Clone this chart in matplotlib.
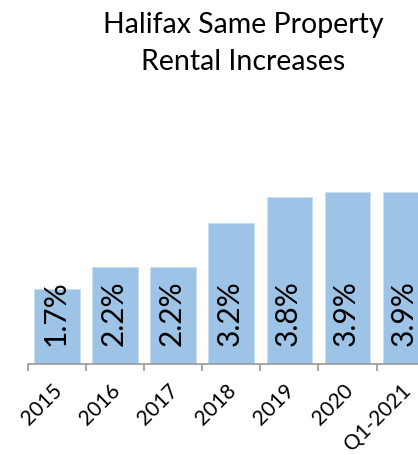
import matplotlib
matplotlib.use("Agg")
import matplotlib.pyplot as plt
from matplotlib.transforms import ScaledTranslation

categories = ["2015", "2016", "2017", "2018", "2019", "2020", "Q1-2021"]
increases = [1.7, 2.2, 2.2, 3.2, 3.8, 3.9, 3.9]
value_labels = ["1.7%", "2.2%", "2.2%", "3.2%", "3.8%", "3.9%", "3.9%"]
title = "Halifax Same Property\nRental Increases"

plt.rcParams["font.family"] = ["Lato", "DejaVu Sans"]

W, H = 418, 455
fig = plt.figure(figsize=(W / 100, H / 100), dpi=100)

# axes extend past the right edge so the last bar is cropped
ax = fig.add_axes([28 / W, 91 / H, 406.7 / W, 220 / H])
x = list(range(len(categories)))
bars = ax.bar(x, increases, width=0.79, color="#9DC3E6",
              edgecolor="#C9DDF0", linewidth=0.6, zorder=2)

for xi, v, lab in zip(x, increases, value_labels):
    ax.text(xi - 0.03, 0.42, lab, rotation=90, ha="center", va="bottom",
            fontsize=21.5, color="black", zorder=3)

ax.set_xlim(-0.5, len(categories) - 0.5)
ax.set_ylim(0, 5)

for s in ["top", "right", "left"]:
    ax.spines[s].set_visible(False)
ax.spines["bottom"].set_color("#9A9A9A")
ax.spines["bottom"].set_linewidth(1.2)
ax.set_yticks([])

# tick marks between categories, labels at category centres
ax.set_xticks([i - 0.5 for i in range(len(categories) + 1)])
ax.set_xticklabels([])
ax.tick_params(axis="x", which="major", length=5, width=1.2, color="#9A9A9A")
ax.set_xticks(x, minor=True)
ax.set_xticklabels(categories, minor=True, rotation=45, ha="right",
                   rotation_mode="anchor", fontsize=15)
ax.tick_params(axis="x", which="minor", length=0, pad=12)
shift = ScaledTranslation(-5 / 100, 0, fig.dpi_scale_trans)
for lbl in ax.get_xticklabels(minor=True):
    lbl.set_transform(lbl.get_transform() + shift)

fig.text(243 / W, 1 - 12 / H, title, ha="center", va="top",
         fontsize=20.5, linespacing=1.52)

fig.savefig("out.png", dpi=100)
